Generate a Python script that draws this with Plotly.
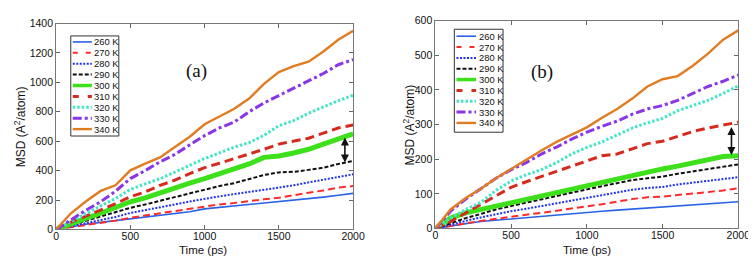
import plotly.graph_objects as go

# ---------------- data ----------------
time_ps = [0, 100, 200, 300, 400, 500, 600, 700, 800, 900, 1000,
           1100, 1200, 1300, 1400, 1500, 1600, 1700, 1800, 1900, 2000]

labels = ["260 K", "270 K", "280 K", "290 K", "300 K", "310 K", "320 K", "330 K", "340 K"]

# panel (a)
a_260 = [0, 18, 35, 48, 60, 72, 85, 95, 105, 120, 140, 150, 155, 165, 178, 190, 200, 210, 220, 232, 245]
a_270 = [0, 15, 30, 45, 60, 80, 95, 110, 125, 145, 160, 170, 180, 195, 205, 215, 235, 250, 265, 285, 295]
a_280 = [0, 20, 40, 60, 85, 112, 130, 150, 170, 190, 210, 225, 240, 255, 270, 286, 300, 320, 340, 355, 375]
a_290 = [0, 30, 60, 90, 120, 147, 170, 195, 220, 250, 272, 295, 315, 340, 370, 388, 392, 405, 420, 445, 465]
a_300 = [0, 40, 75, 110, 150, 188, 215, 250, 280, 315, 345, 380, 410, 445, 490, 500, 520, 545, 580, 615, 650]
a_310 = [0, 50, 90, 130, 175, 222, 255, 300, 335, 380, 420, 450, 480, 510, 545, 580, 600, 620, 655, 690, 710]
a_320 = [0, 55, 110, 160, 210, 272, 310, 345, 390, 435, 482, 520, 560, 590, 640, 705, 740, 790, 835, 875, 912]
a_330 = [0, 65, 130, 188, 260, 346, 400, 460, 510, 575, 638, 690, 730, 800, 860, 910, 960, 1010, 1060, 1120, 1155]
a_340 = [0, 110, 190, 262, 300, 402, 448, 490, 560, 630, 715, 770, 820, 890, 990, 1070, 1110, 1140, 1210, 1290, 1350]

# panel (b)
b_260 = [0, 8, 14, 20, 24, 28, 31, 35, 38, 42, 46, 50, 53, 56, 58, 60, 64, 67, 70, 73, 77]
b_270 = [0, 8, 15, 22, 28, 35, 40, 45, 52, 58, 64, 70, 78, 85, 90, 92, 97, 100, 105, 110, 116]
b_280 = [0, 12, 22, 32, 42, 50, 57, 65, 72, 80, 87, 95, 105, 112, 117, 120, 127, 132, 138, 143, 148]
b_290 = [0, 15, 30, 42, 55, 65, 75, 85, 95, 105, 113, 122, 132, 140, 145, 150, 158, 165, 172, 178, 185]
b_300 = [0, 30, 45, 55, 65, 72, 82, 95, 105, 115, 123, 135, 145, 155, 165, 172, 180, 190, 200, 208, 210]
b_310 = [0, 20, 45, 70, 95, 119, 135, 150, 165, 180, 195, 210, 215, 230, 245, 252, 265, 280, 290, 298, 307]
b_320 = [0, 30, 55, 75, 110, 137, 155, 170, 190, 215, 234, 250, 270, 290, 305, 318, 340, 355, 370, 390, 412]
b_330 = [0, 50, 85, 115, 145, 170, 190, 215, 235, 258, 278, 295, 310, 330, 345, 355, 370, 390, 410, 425, 443]
b_340 = [0, 55, 88, 115, 145, 172, 200, 225, 250, 270, 292, 320, 345, 375, 410, 431, 440, 470, 505, 545, 572]

series_a = [a_260, a_270, a_280, a_290, a_300, a_310, a_320, a_330, a_340]
series_b = [b_260, b_270, b_280, b_290, b_300, b_310, b_320, b_330, b_340]

x_ticks = [0, 500, 1000, 1500, 2000]
y_ticks_a = [0, 200, 400, 600, 800, 1000, 1200, 1400]
y_ticks_b = [0, 100, 200, 300, 400, 500, 600]

# ---------------- styles ----------------
styles = [
    dict(color="#2a62e6", width=1.6, dash="solid"),
    dict(color="#ff2b2b", width=2.0, dash="7px,4px"),
    dict(color="#2233ee", width=2.0, dash="2px,1.5px"),
    dict(color="#111111", width=2.0, dash="4px,2px"),
    dict(color="#3ee01c", width=5.0, dash="solid"),
    dict(color="#d62a1f", width=3.0, dash="9px,5px"),
    dict(color="#44e6c6", width=3.0, dash="2.5px,2px"),
    dict(color="#8a35e6", width=3.0, dash="9px,3px,3px,3px"),
    dict(color="#e27c22", width=2.4, dash="solid"),
]
legend_dash = ["solid", "5px,8px", "2px,1.5px", "4px,2px", "solid", "6px,9px", "2.5px,2px", "9px,3px,3px,3px", "solid"]

W, H = 756, 257
FONT = "'Liberation Sans', Arial, sans-serif"

fig = go.Figure()
for s, vals, st in zip(labels, series_a, styles):
    fig.add_trace(go.Scatter(x=time_ps, y=vals, mode="lines", name=s, line=st,
                             xaxis="x", yaxis="y", showlegend=False))
for s, vals, st in zip(labels, series_b, styles):
    fig.add_trace(go.Scatter(x=time_ps, y=vals, mode="lines", name=s, line=st,
                             xaxis="x2", yaxis="y2", showlegend=False))

def px_x(p):
    return p / W

def px_y(p):
    return 1 - p / H

axis_common = dict(ticks="inside", ticklen=4, tickwidth=1, tickcolor="#666",
                   mirror="ticks", showline=True, linecolor="#777", linewidth=1,
                   showgrid=False, zeroline=False,
                   tickfont=dict(family=FONT, size=10.5, color="#111"))

fig.update_layout(
    width=W, height=H, margin=dict(l=0, r=0, t=0, b=0),
    paper_bgcolor="white", plot_bgcolor="white",
    xaxis=dict(domain=[px_x(46), px_x(349)], range=[0, 2000], tickvals=x_ticks,
               anchor="y", ticklabelstandoff=-3, **axis_common),
    yaxis=dict(domain=[px_y(226), px_y(10)], range=[0, 1400], tickvals=y_ticks_a,
               anchor="x", **axis_common),
    xaxis2=dict(domain=[px_x(433), px_x(742)], range=[0, 2000], tickvals=x_ticks,
                anchor="y2", ticklabelstandoff=-3, **axis_common),
    yaxis2=dict(domain=[px_y(225), px_y(7)], range=[0, 600], tickvals=y_ticks_b,
                anchor="x2", **axis_common),
    showlegend=False,
)

annotations = []
shapes = []

# axis titles
for cx in [196, 588]:
    annotations.append(dict(text="Time (ps)", x=px_x(cx), y=px_y(248), xref="paper", yref="paper",
                            showarrow=False, xanchor="center", yanchor="middle",
                            font=dict(family=FONT, size=11.5, color="#111")))
for cx, cy in [(10, 118), (406, 116)]:
    annotations.append(dict(text="MSD (A<sup>2</sup>/atom)", x=px_x(cx), y=px_y(cy),
                            xref="paper", yref="paper", showarrow=False, textangle=-90,
                            xanchor="center", yanchor="middle",
                            font=dict(family=FONT, size=12, color="#111")))

# panel labels
SERIF = "'Liberation Serif', 'Times New Roman', serif"
annotations.append(dict(text="(a)", x=px_x(176), y=px_y(46), xref="paper", yref="paper",
                        showarrow=False, font=dict(family=SERIF, size=19, color="#111")))
annotations.append(dict(text="(b)", x=px_x(555), y=px_y(47), xref="paper", yref="paper",
                        showarrow=False, font=dict(family=SERIF, size=19, color="#111")))

# double arrows
arrow_a = dict(x=1945, y_low=455, y_high=635)
arrow_b = dict(x=1955, y_low=212, y_high=297)
for ar, xr, yr in [(arrow_a, "x", "y"), (arrow_b, "x2", "y2")]:
    annotations.append(dict(x=ar["x"], y=ar["y_low"], ax=ar["x"], ay=ar["y_high"],
                            xref=xr, yref=yr, axref=xr, ayref=yr, text="",
                            showarrow=True, arrowhead=2, arrowsize=1, arrowwidth=1.6,
                            arrowside="end+start", arrowcolor="#111"))

# manual legends (box, line samples, labels)
legend_specs = [
    dict(box=(61, 23, 110, 128), x0=63, x1=82.5, tx=83.0, y0=29.3, dy=11.43),
    dict(box=(452.3, 16, 502, 124), x0=454.5, x1=474.5, tx=475.0, y0=23.3, dy=11.37),
]
for spec in legend_specs:
    bx0, by0, bx1, by1 = spec["box"]
    shapes.append(dict(type="rect", xref="paper", yref="paper",
                       x0=px_x(bx0), x1=px_x(bx1), y0=px_y(by1), y1=px_y(by0),
                       line=dict(color="#333", width=1), fillcolor="white", layer="above"))
    for i, (lab, st) in enumerate(zip(labels, styles)):
        yy = spec["y0"] + i * spec["dy"]
        shapes.append(dict(type="line", xref="paper", yref="paper",
                           x0=px_x(spec["x0"]), x1=px_x(spec["x1"]), y0=px_y(yy), y1=px_y(yy),
                           line=dict(color=st["color"], width=min(st["width"], 3.5), dash=legend_dash[i]),
                           layer="above"))
        annotations.append(dict(text=lab, x=px_x(spec["tx"]), y=px_y(yy), xref="paper", yref="paper",
                                showarrow=False, xanchor="left", yanchor="middle",
                                font=dict(family=FONT, size=9.4, color="#111")))

fig.update_layout(annotations=annotations, shapes=shapes)
fig.write_html("out.html")
